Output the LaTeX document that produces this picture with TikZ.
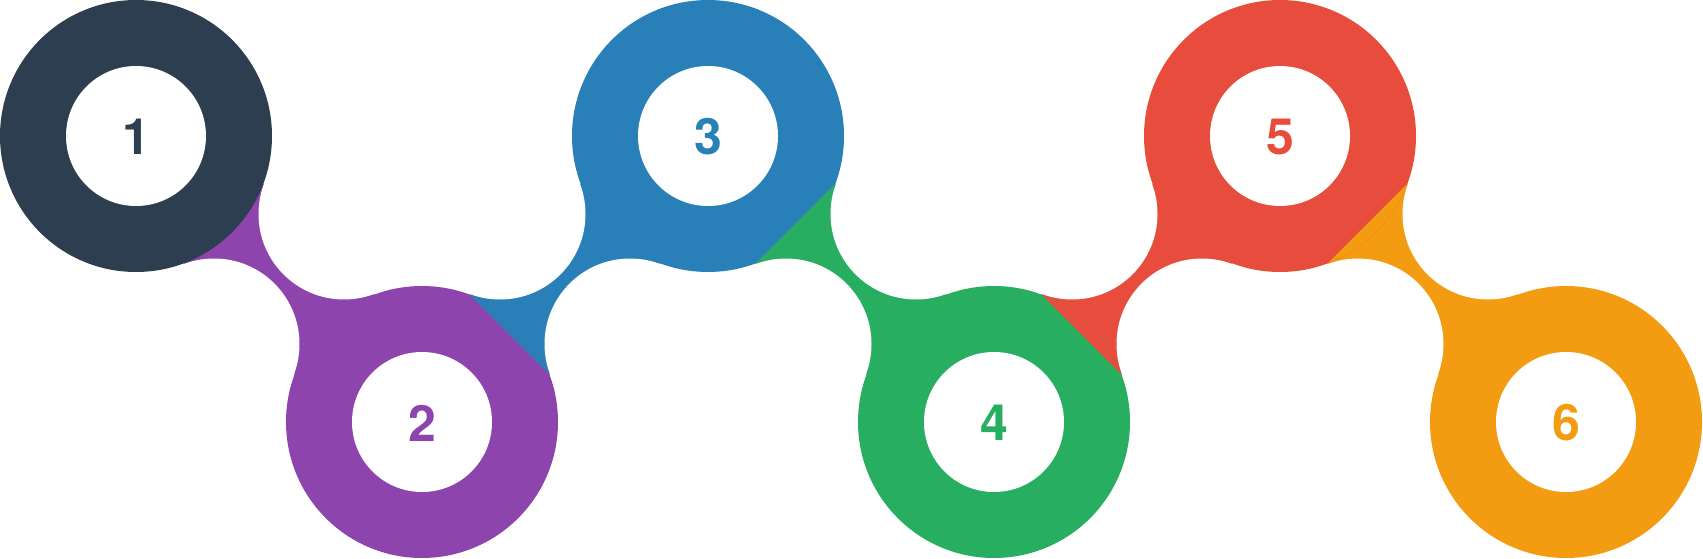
\documentclass[tikz,border=0pt]{standalone}
\usepackage{fontspec}
\newfontfamily\numfont{TeX Gyre Heros}
\usetikzlibrary{calc}
\definecolor{colA}{HTML}{2C3E50}
\definecolor{colB}{HTML}{8E44AD}
\definecolor{colC}{HTML}{2980B9}
\definecolor{colD}{HTML}{27AE60}
\definecolor{colE}{HTML}{E74C3C}
\definecolor{colF}{HTML}{F39C12}
\tikzset{
  gap/.style={fill=white},
  hole/.style={fill=white},
  num/.style={inner sep=0pt, font=\numfont\bfseries\fontsize{50}{50}\selectfont}
}
\begin{document}
\begin{tikzpicture}[x=1pt,y=-1pt]
\useasboundingbox (0,0) rectangle (1703,559);
% circle centres
\coordinate (c1) at (136,136);
\coordinate (c2) at (422,422);
\coordinate (c3) at (708,136);
\coordinate (c4) at (994,422);
\coordinate (c5) at (1280,136);
\coordinate (c6) at (1566,422);
% gap circle centres (upper / lower side of each neck)
\coordinate (u12) at (344,214);  \coordinate (l12) at (214,344);
\coordinate (u23) at (500,214);  \coordinate (l23) at (630,344);
\coordinate (u34) at (916,214);  \coordinate (l34) at (786,344);
\coordinate (u45) at (1072,214); \coordinate (l45) at (1202,344);
\coordinate (u56) at (1488,214); \coordinate (l56) at (1358,344);
% necks
\fill[colB] (c1) -- (u12) -- (c2) -- (l12) -- cycle;
\fill[colC] (c2) -- (u23) -- (c3) -- (l23) -- cycle;
\fill[colD] (c3) -- (u34) -- (c4) -- (l34) -- cycle;
\fill[colE] (c4) -- (u45) -- (c5) -- (l45) -- cycle;
\fill[colF] (c5) -- (u56) -- (c6) -- (l56) -- cycle;
% concave cut-outs
\foreach \g in {u12,l12,u23,l23,u34,l34,u45,l45,u56,l56}
  \fill[gap] (\g) circle (85.5pt);
% big circles
\fill[colA] (c1) circle (136pt);
\fill[colB] (c2) circle (136pt);
\fill[colC] (c3) circle (136pt);
\fill[colD] (c4) circle (136pt);
\fill[colE] (c5) circle (136pt);
\fill[colF] (c6) circle (136pt);
% caps of the previous circle in the next colour
\begin{scope}
  \clip (c2) circle (136pt);
  \fill[colC] ($(c2)!136pt!(u23)$) -- ($(c2)!136pt!(l23)$) -- (c3) -- cycle;
\end{scope}
\begin{scope}
  \clip (c3) circle (136pt);
  \fill[colD] ($(c3)!136pt!(u34)$) -- ($(c3)!136pt!(l34)$) -- (c4) -- cycle;
\end{scope}
\begin{scope}
  \clip (c4) circle (136pt);
  \fill[colE] ($(c4)!136pt!(u45)$) -- ($(c4)!136pt!(l45)$) -- (c5) -- cycle;
\end{scope}
\begin{scope}
  \clip (c5) circle (136pt);
  \fill[colF] ($(c5)!136pt!(u56)$) -- ($(c5)!136pt!(l56)$) -- (c6) -- cycle;
\end{scope}
% inner holes
\foreach \c in {c1,c2,c3,c4,c5,c6}
  \fill[hole] (\c) circle (70pt);
% numbers
\node[num, text=colA] (n1) at ($(c1)+(0,1)$) {1};
\node[num, text=colB] (n2) at ($(c2)+(0,1)$) {2};
\node[num, text=colC] (n3) at ($(c3)+(0,1)$) {3};
\node[num, text=colD] (n4) at ($(c4)+(0,1)$) {4};
\node[num, text=colE] (n5) at ($(c5)+(0,1)$) {5};
\node[num, text=colF] (n6) at ($(c6)+(0,1)$) {6};
\end{tikzpicture}
\end{document}
